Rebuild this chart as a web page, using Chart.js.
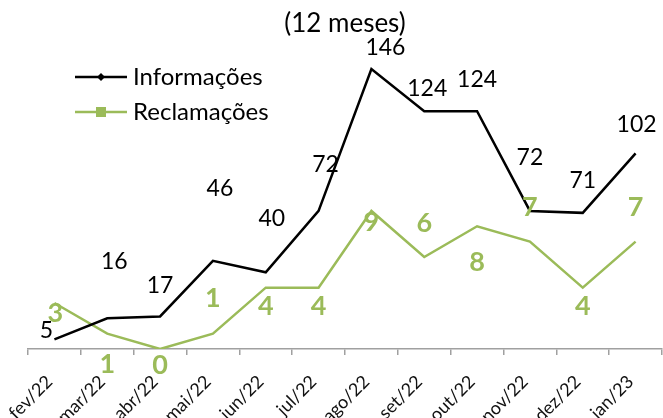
<!DOCTYPE html>
<html><head><meta charset="utf-8">
<script src="https://cdn.jsdelivr.net/npm/chart.js@4"></script>
<style>html,body{margin:0;padding:0;background:#fff}#wrap{width:663px;height:418px;position:relative}</style>
</head><body><div id="wrap"><canvas id="c" width="663" height="418"></canvas></div>
<script>
const categories = ['fev/22','mar/22','abr/22','mai/22','jun/22','jul/22','ago/22','set/22','out/22','nov/22','dez/22','jan/23'];
const informacoes = [5,16,17,46,40,72,146,124,124,72,71,102];
const reclamacoes = [3,1,0,1,4,4,9,6,8,7,4,7];
const seriesNames = ['Informações','Reclamações'];
const titleText = '(12 meses)';

// label placement (pixel offsets from each point), style only
const infoLabelOffsets = [[-8,-9],[7,-57],[0,-31],[7,-72],[6,-54],[7,-46],[14,-21],[3,-23],[0,-32],[0,-53],[0,-32],[1,-29]];
const reclLabelOffsets = [[1,10],[0,31],[0,16],[0,-35],[0,19],[0,19],[0,11],[0,-34],[0,36],[0,-34],[0,19],[0,-34]];

const BLACK = '#000000';
const GREEN = '#9BBB59';
const FONT = 'Lato, "Open Sans", sans-serif';

const labelPlugin = {
  id: 'pointLabels',
  afterDatasetsDraw(chart) {
    const ctx = chart.ctx;
    const cfg = [
      {offs: infoLabelOffsets, font: '23px ' + FONT, color: BLACK},
      {offs: reclLabelOffsets, font: 'bold 27px ' + FONT, color: GREEN}
    ];
    chart.data.datasets.forEach((ds, i) => {
      const meta = chart.getDatasetMeta(i);
      const c = cfg[i];
      ctx.save();
      ctx.font = c.font;
      ctx.fillStyle = c.color;
      ctx.textAlign = 'center';
      ctx.textBaseline = 'middle';
      meta.data.forEach((pt, j) => {
        const o = c.offs[j];
        ctx.fillText(String(ds.data[j]), pt.x + o[0], pt.y + o[1]);
      });
      ctx.restore();
    });
  }
};

const legendPlugin = {
  id: 'customLegend',
  afterDraw(chart) {
    const ctx = chart.ctx;
    const x0 = 75, x1 = 127, tx = 133;
    const ys = [77, 112];
    ctx.save();
    chart.data.datasets.forEach((ds, i) => {
      const y = ys[i];
      ctx.strokeStyle = ds.borderColor;
      ctx.lineWidth = ds.borderWidth;
      ctx.beginPath(); ctx.moveTo(x0, y); ctx.lineTo(x1, y); ctx.stroke();
      const mx = (x0 + x1) / 2;
      ctx.fillStyle = ds.borderColor;
      if (i === 0) {
        ctx.beginPath();
        ctx.moveTo(mx, y - 4); ctx.lineTo(mx + 4, y); ctx.lineTo(mx, y + 4); ctx.lineTo(mx - 4, y);
        ctx.closePath(); ctx.fill();
      } else {
        ctx.fillRect(mx - 5, y - 5, 10, 10);
      }
      ctx.fillStyle = '#000';
      ctx.font = '24px ' + FONT;
      ctx.textAlign = 'left';
      ctx.textBaseline = 'middle';
      ctx.fillText(ds.label, tx, y);
    });
    ctx.restore();
  }
};

new Chart(document.getElementById('c'), {
  type: 'line',
  data: {
    labels: categories,
    datasets: [
      {label: seriesNames[0], data: informacoes, borderColor: BLACK, backgroundColor: BLACK, borderWidth: 2.5, pointRadius: 0, tension: 0, yAxisID: 'y'},
      {label: seriesNames[1], data: reclamacoes, borderColor: GREEN, backgroundColor: GREEN, borderWidth: 2.5, pointRadius: 0, tension: 0, yAxisID: 'y2'}
    ]
  },
  options: {
    responsive: false,
    devicePixelRatio: 1,
    animation: false,
    layout: {padding: {left: 28, right: 1, top: 0, bottom: 0}},
    plugins: {
      legend: {display: false},
      tooltip: {enabled: false},
      title: {display: true, text: titleText, color: '#000', font: {family: FONT, size: 26, weight: 'normal', lineHeight: 1.2}, padding: {top: 8, bottom: 3}}
    },
    scales: {
      x: {
        offset: true,
        grid: {offset: true, drawOnChartArea: false, drawTicks: true, tickLength: 6, color: '#A0A0A0', lineWidth: 1.5},
        border: {display: true, color: '#A0A0A0', width: 1.5},
        ticks: {maxRotation: 45, minRotation: 45, autoSkip: false, color: '#111', font: {family: FONT, size: 18}, padding: 16, labelOffset: -5},
        afterFit(scale) { scale.height = 69; scale.paddingLeft = 0; scale.paddingRight = 0; }
      },
      y: {display: false, min: 0, max: 160},
      y2: {display: false, min: 0, max: 20, position: 'right'}
    }
  },
  plugins: [labelPlugin, legendPlugin]
});
</script></body></html>
